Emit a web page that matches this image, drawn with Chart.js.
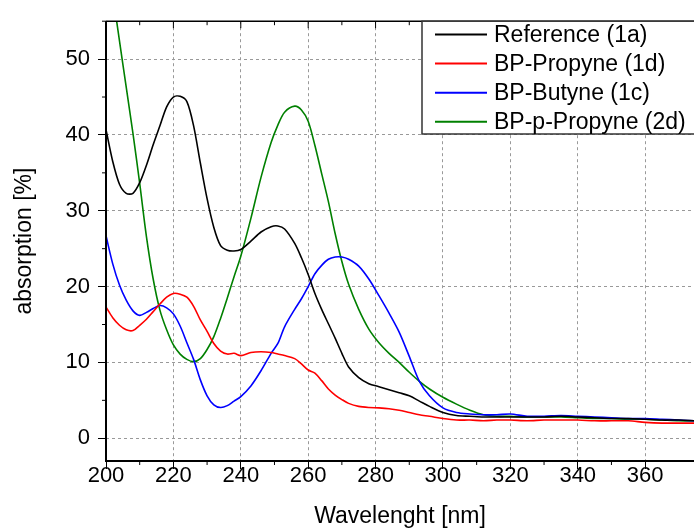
<!DOCTYPE html>
<html>
<head>
<meta charset="utf-8">
<script src="https://cdn.jsdelivr.net/npm/chart.js@4"></script>
<style>
  html, body { margin: 0; padding: 0; background: #fff; }
  canvas { display: block; }
</style>
</head>
<body>
<canvas id="chart" width="694" height="528"></canvas>
<script>
const wavelengths = [200, 202, 204, 206, 208, 210, 212, 214, 216, 218, 220, 222, 224, 226, 228, 230, 232, 234, 236, 238, 240, 243, 246, 249, 251, 253, 256, 258, 260, 262, 264, 266, 268, 270, 272, 275, 278, 281, 284, 287, 290, 293, 296, 300, 304, 308, 312, 316, 320, 325, 330, 335, 340, 345, 350, 355, 360, 365, 370, 375];

const reference1a = [40.7, 36.5, 33.5, 32.3, 32.3, 33.7, 36.0, 38.7, 41.2, 43.7, 45.0, 45.1, 44.4, 41.2, 36.3, 31.6, 27.8, 25.4, 24.8, 24.7, 24.9, 26.0, 27.2, 27.9, 28.0, 27.6, 25.7, 23.8, 21.6, 19.1, 17.0, 15.1, 13.2, 11.2, 9.4, 8.0, 7.2, 6.8, 6.4, 6.0, 5.6, 4.9, 4.2, 3.4, 3.0, 2.9, 2.8, 2.8, 2.8, 2.8, 2.8, 2.9, 2.8, 2.7, 2.6, 2.6, 2.5, 2.4, 2.4, 2.3];
const propyne1d = [17.3, 15.9, 14.9, 14.3, 14.2, 14.9, 15.7, 16.7, 17.7, 18.6, 19.1, 19.0, 18.6, 17.4, 15.6, 14.1, 12.5, 11.5, 11.1, 11.2, 10.9, 11.3, 11.4, 11.3, 11.1, 10.9, 10.5, 9.8, 9.0, 8.6, 7.6, 6.5, 5.7, 5.1, 4.6, 4.2, 4.05, 4.0, 3.9, 3.7, 3.4, 3.1, 2.9, 2.6, 2.4, 2.4, 2.3, 2.4, 2.4, 2.3, 2.4, 2.4, 2.4, 2.3, 2.3, 2.3, 2.1, 2.0, 2.0, 2.0];
const butyne1c = [26.7, 23.0, 20.2, 18.2, 16.8, 16.2, 16.6, 17.1, 17.5, 17.2, 16.4, 14.8, 12.6, 10.4, 7.7, 5.6, 4.4, 4.05, 4.3, 4.9, 5.5, 6.9, 8.9, 11.2, 12.5, 14.7, 17.0, 18.4, 20.0, 21.7, 22.8, 23.6, 23.9, 23.9, 23.6, 22.7, 21.0, 18.8, 16.5, 14.0, 10.8, 7.5, 5.6, 4.0, 3.4, 3.2, 3.1, 3.1, 3.2, 2.9, 2.9, 3.0, 2.9, 2.8, 2.7, 2.6, 2.6, 2.5, 2.4, 2.3];
const pPropyne2d = [64.8, 58.6, 52.4, 46.3, 40.2, 33.6, 26.6, 21.0, 16.9, 14.3, 12.3, 11.1, 10.4, 10.1, 10.5, 11.7, 13.4, 15.8, 18.5, 21.3, 24.0, 29.0, 34.4, 39.0, 41.3, 43.0, 43.8, 43.3, 41.8, 38.6, 34.9, 31.2, 27.0, 23.3, 20.3, 17.0, 14.4, 12.6, 11.2, 10.0, 8.7, 7.5, 6.5, 5.4, 4.5, 3.7, 3.1, 2.9, 2.9, 2.8, 2.8, 2.8, 2.7, 2.6, 2.6, 2.5, 2.5, 2.4, 2.3, 2.3];

const seriesNames = ['Reference (1a)', 'BP-Propyne (1d)', 'BP-Butyne (1c)', 'BP-p-Propyne (2d)'];
const seriesColors = ['#000000', '#ff0000', '#0000ff', '#008000'];
const seriesValues = [reference1a, propyne1d, butyne1c, pPropyne2d];

const yTickValues = [0, 5, 10, 15, 20, 25, 30, 35, 40, 45, 50, 55];

const FONT = "'Liberation Sans', Arial, sans-serif";

const toPoints = (values) => wavelengths.map((x, i) => ({ x, y: values[i] }));

// axis lines, minor ticks, top frame and the boxed legend
const framePlugin = {
  id: 'frame',
  afterDraw(chart) {
    const { ctx, chartArea } = chart;
    const xs = chart.scales.x;
    const ys = chart.scales.y;
    ctx.save();
    ctx.strokeStyle = '#000';

    ctx.lineWidth = 2;
    ctx.beginPath();
    ctx.moveTo(chartArea.left, chartArea.top);
    ctx.lineTo(chartArea.left, chartArea.bottom + 1);
    ctx.moveTo(chartArea.left - 1, chartArea.bottom);
    ctx.lineTo(chartArea.right + 2, chartArea.bottom);
    ctx.stroke();

    ctx.lineWidth = 1.5;
    ctx.beginPath();
    ctx.moveTo(chartArea.left, chartArea.top);
    ctx.lineTo(chartArea.right + 2, chartArea.top);
    ctx.stroke();

    ctx.lineWidth = 1;
    ctx.beginPath();
    xs.ticks.forEach((t) => {
      const px = xs.getPixelForValue(t.value);
      const major = t.value % 20 === 0;
      if (!major) {
        ctx.moveTo(px, chartArea.bottom);
        ctx.lineTo(px, chartArea.bottom + 4);
      }
      ctx.moveTo(px, chartArea.top);
      ctx.lineTo(px, chartArea.top + (major ? 7 : 4));
    });
    ys.ticks.forEach((t) => {
      if (t.value % 10 !== 0) {
        const py = ys.getPixelForValue(t.value);
        ctx.moveTo(chartArea.left, py);
        ctx.lineTo(chartArea.left - 4, py);
      }
    });
    ctx.stroke();

    // legend
    const box = { left: 422, top: chartArea.top, right: 700, bottom: 134 };
    ctx.fillStyle = '#fff';
    ctx.fillRect(box.left, box.top, box.right - box.left, box.bottom - box.top);
    ctx.strokeStyle = '#333';
    ctx.lineWidth = 1.5;
    ctx.strokeRect(box.left, box.top, box.right - box.left, box.bottom - box.top);

    ctx.font = `23px ${FONT}`;
    ctx.textBaseline = 'middle';
    ctx.textAlign = 'left';
    chart.data.datasets.forEach((ds, i) => {
      const y = 34.5 + i * 29.1;
      ctx.strokeStyle = ds.borderColor;
      ctx.lineWidth = 2;
      ctx.beginPath();
      ctx.moveTo(435, y);
      ctx.lineTo(487, y);
      ctx.stroke();
      ctx.fillStyle = '#000';
      ctx.fillText(ds.label, 494, y + 1);
    });
    ctx.restore();
  }
};

new Chart(document.getElementById('chart'), {
  type: 'line',
  data: {
    datasets: seriesValues.map((values, i) => ({
      label: seriesNames[i],
      data: toPoints(values),
      borderColor: seriesColors[i],
      backgroundColor: seriesColors[i],
      borderWidth: 1.6,
      pointRadius: 0,
      tension: 0.3,
      fill: false
    }))
  },
  options: {
    responsive: false,
    animation: false,
    layout: { padding: { top: 16, right: 0, left: 0, bottom: 0 } },
    plugins: {
      legend: { display: false },
      tooltip: { enabled: false }
    },
    scales: {
      x: {
        type: 'linear',
        min: 200,
        max: 374.5,
        afterFit: (scale) => { scale.height = 67; },
        afterBuildTicks: (scale) => {
          scale.ticks = scale.ticks.filter((t) => t.value % 10 === 0);
        },
        border: { display: false, dash: [3, 3] },
        grid: {
          color: (c) => (c.tick && c.tick.value % 20 === 0 ? '#999' : 'transparent'),
          tickColor: (c) => (c.tick && c.tick.value % 20 === 0 ? '#000' : 'transparent'),
          tickBorderDash: [],
          tickLength: 8,
          lineWidth: 1
        },
        ticks: {
          stepSize: 10,
          autoSkip: false,
          maxRotation: 0,
          padding: -6,
          color: '#000',
          font: { family: FONT, size: 22 },
          callback: (v) => (v % 20 === 0 ? String(v) : '')
        },
        title: {
          display: true,
          text: 'Wavelenght [nm]',
          color: '#000',
          font: { family: FONT, size: 23, lineHeight: 1 },
          padding: { top: 0, bottom: 0 }
        }
      },
      y: {
        min: -3,
        max: 55,
        afterFit: (scale) => { scale.width = 106; },
        afterBuildTicks: (scale) => {
          scale.ticks = yTickValues.map((value) => ({ value }));
        },
        border: { display: false, dash: [3, 3] },
        grid: {
          color: (c) => (c.tick && c.tick.value % 10 === 0 ? '#999' : 'transparent'),
          tickColor: (c) => (c.tick && c.tick.value % 10 === 0 ? '#000' : 'transparent'),
          tickBorderDash: [],
          tickLength: 8,
          lineWidth: 1
        },
        ticks: {
          autoSkip: false,
          padding: 8,
          color: '#000',
          font: { family: FONT, size: 22 },
          callback: (v) => (v % 10 === 0 ? String(v) : '')
        },
        title: {
          display: true,
          text: 'absorption [%]',
          color: '#000',
          font: { family: FONT, size: 23, lineHeight: 1 },
          padding: { top: 13, bottom: 0 }
        }
      }
    }
  },
  plugins: [framePlugin]
});
</script>
</body>
</html>
